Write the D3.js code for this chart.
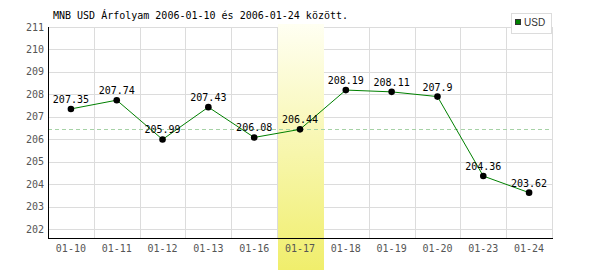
<!DOCTYPE html>
<html>
<head>
<meta charset="utf-8">
<script src="https://cdn.jsdelivr.net/npm/d3@7"></script>
<style>
  body { margin: 0; background: #fff; }
  text { font-family: "DejaVu Sans Mono", "Liberation Mono", monospace; font-size: 10px; }
</style>
</head>
<body>
<div id="chart"></div>
<script>
// chart data
const days = ["01-10", "01-11", "01-12", "01-13", "01-16", "01-17", "01-18", "01-19", "01-20", "01-23", "01-24"];
const usd = [207.35, 207.74, 205.99, 207.43, 206.08, 206.44, 208.19, 208.11, 207.9, 204.36, 203.62];
const yTicks = [202, 203, 204, 205, 206, 207, 208, 209, 210, 211];
const highlightDay = "01-17";
const title = "MNB USD Árfolyam 2006-01-10 és 2006-01-24 között.";
const seriesName = "USD";

const width = 600, height = 270;
const plotLeft = 48, plotRight = 552, plotTop = 27, plotBottom = 238;

const svg = d3.select("#chart").append("svg")
    .attr("width", width)
    .attr("height", height);

// gradient for the highlighted day
const grad = svg.append("defs").append("linearGradient")
    .attr("id", "hl").attr("x1", 0).attr("y1", 0).attr("x2", 0).attr("y2", 1);
grad.append("stop").attr("offset", "0%").attr("stop-color", "#fffff2");
grad.append("stop").attr("offset", "100%").attr("stop-color", "#f0ee6c");

const x = d3.scaleBand().domain(days).range([plotLeft, plotRight]).padding(0);
const y = d3.scaleLinear().domain([201.6, 211]).range([plotBottom, plotTop]);

// grid
svg.append("g").selectAll("line")
    .data(yTicks)
    .enter().append("line")
    .attr("x1", plotLeft).attr("x2", plotRight)
    .attr("y1", d => Math.round(y(d)) + 0.5).attr("y2", d => Math.round(y(d)) + 0.5)
    .attr("stroke", "#dcdcdc");

const vEdges = days.slice(1).map(d => x(d)).concat([plotRight]);
svg.append("g").selectAll("line")
    .data(vEdges)
    .enter().append("line")
    .attr("x1", d => Math.round(d) + 0.5)
    .attr("x2", d => Math.round(d) + 0.5)
    .attr("y1", plotTop).attr("y2", plotBottom)
    .attr("stroke", "#dcdcdc");

// highlighted day
svg.append("rect")
    .attr("x", Math.round(x(highlightDay)) + 1)
    .attr("y", plotTop - 3)
    .attr("width", Math.round(x.bandwidth()))
    .attr("height", height - plotTop + 3)
    .attr("fill", "url(#hl)");

// reference line at the highlighted day's value
const hlValue = usd[days.indexOf(highlightDay)];
svg.append("line")
    .attr("x1", plotLeft).attr("x2", plotRight)
    .attr("y1", Math.round(y(hlValue)) + 0.5).attr("y2", Math.round(y(hlValue)) + 0.5)
    .attr("stroke", "#a6d2a6")
    .attr("stroke-dasharray", "4,3");

// axes
svg.append("line")
    .attr("x1", plotLeft + 0.5).attr("x2", plotLeft + 0.5)
    .attr("y1", plotTop).attr("y2", plotBottom + 1)
    .attr("stroke", "#000");
svg.append("line")
    .attr("x1", plotLeft).attr("x2", plotRight + 1)
    .attr("y1", plotBottom + 0.5).attr("y2", plotBottom + 0.5)
    .attr("stroke", "#000");

svg.append("g").selectAll("text")
    .data(yTicks)
    .enter().append("text")
    .attr("x", plotLeft - 4)
    .attr("y", d => y(d))
    .attr("dy", "0.35em")
    .attr("text-anchor", "end")
    .attr("fill", "#555")
    .text(d => d);

svg.append("g").selectAll("text")
    .data(days)
    .enter().append("text")
    .attr("x", d => x(d) + x.bandwidth() / 2)
    .attr("y", 252)
    .attr("text-anchor", "middle")
    .attr("fill", "#555")
    .text(d => d);

// series line
const line = d3.line()
    .x((d, i) => x(days[i]) + x.bandwidth() / 2)
    .y(d => y(d));

svg.append("path")
    .datum(usd)
    .attr("d", line)
    .attr("fill", "none")
    .attr("stroke", "#008000")
    .attr("stroke-width", 1);

svg.append("g").selectAll("circle")
    .data(usd)
    .enter().append("circle")
    .attr("cx", (d, i) => x(days[i]) + x.bandwidth() / 2)
    .attr("cy", d => y(d))
    .attr("r", 3.3)
    .attr("fill", "#000");

svg.append("g").selectAll("text")
    .data(usd)
    .enter().append("text")
    .attr("x", (d, i) => x(days[i]) + x.bandwidth() / 2)
    .attr("y", d => y(d) - 6)
    .attr("text-anchor", "middle")
    .attr("fill", "#000")
    .text(d => d);

// title
svg.append("text")
    .attr("x", 53)
    .attr("y", 19)
    .attr("fill", "#000")
    .text(title);

// legend
const lg = svg.append("g");
lg.append("rect")
    .attr("x", 511.5).attr("y", 13.5)
    .attr("width", 40).attr("height", 20)
    .attr("fill", "#fff")
    .attr("stroke", "#dcdcdc");
lg.append("rect")
    .attr("x", 515.5).attr("y", 19.5)
    .attr("width", 5).attr("height", 5)
    .attr("fill", "#008000")
    .attr("stroke", "#333");
lg.append("text")
    .attr("x", 524)
    .attr("y", 26)
    .attr("fill", "#333")
    .style("font-family", "'Liberation Sans Narrow', 'Liberation Sans', sans-serif")
    .style("font-size", "10px")
    .text(seriesName);
</script>
</body>
</html>
